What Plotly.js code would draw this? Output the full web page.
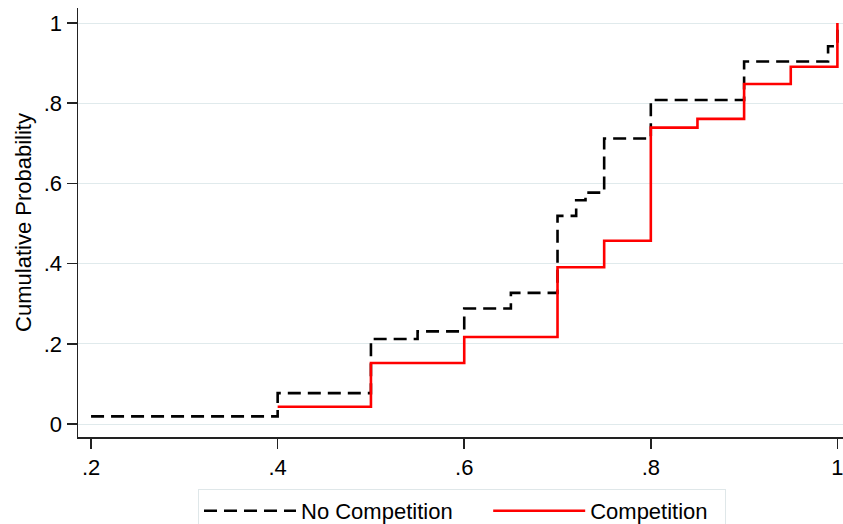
<!DOCTYPE html>
<html>
<head>
<meta charset="utf-8">
<script src="https://cdn.plot.ly/plotly-3.0.1.min.js"></script>
<style>
  html, body { margin: 0; padding: 0; background: #fff; }
  #chart { width: 843px; height: 524px; }
</style>
</head>
<body>
<div id="chart"></div>
<script>
// No Competition (empirical CDF, step starts)
const noCompX = [0.2, 0.4, 0.5, 0.55, 0.6, 0.65, 0.7, 0.72, 0.73, 0.75, 0.8, 0.9, 0.99, 1.0];
const noCompY = [0.019, 0.077, 0.212, 0.231, 0.288, 0.327, 0.519, 0.558, 0.577, 0.712, 0.808, 0.904, 0.942, 1.0];
// Competition
const compX = [0.4, 0.5, 0.6, 0.7, 0.75, 0.8, 0.85, 0.9, 0.95, 1.0];
const compY = [0.043, 0.152, 0.217, 0.391, 0.457, 0.739, 0.761, 0.848, 0.891, 1.0];

const seriesNames = ["No Competition", "Competition"];

const xTickVals = [0.2, 0.4, 0.6, 0.8, 1.0];
const xTickText = [".2", ".4", ".6", ".8", "1"];
const yTickVals = [0, 0.2, 0.4, 0.6, 0.8, 1.0];
const yTickText = ["0", ".2", ".4", ".6", ".8", "1"];

const FONT = "Liberation Sans, Arial, Helvetica, sans-serif";
const NB = "\u00A0";

const traces = [
  {
    x: noCompX, y: noCompY, type: "scatter", mode: "lines",
    name: seriesNames[0] + NB.repeat(5),
    line: { shape: "hv", color: "#000000", width: 2.6, dash: "13px,7px" }
  },
  {
    x: compX, y: compY, type: "scatter", mode: "lines",
    name: seriesNames[1] + NB.repeat(2),
    line: { shape: "hv", color: "#ff0000", width: 2.6 }
  }
];

const layout = {
  width: 843, height: 524,
  margin: { l: 78, r: 0, t: 8, b: 87 },
  paper_bgcolor: "#ffffff",
  plot_bgcolor: "#ffffff",
  font: { family: FONT, size: 22, color: "#000000" },
  showlegend: true,
  xaxis: {
    range: [0.186, 1.006],
    tickvals: xTickVals, ticktext: xTickText,
    ticks: "outside", ticklen: 10, tickwidth: 1.5, tickcolor: "#222",
    showline: true, linecolor: "#222", linewidth: 1.5,
    showgrid: false, zeroline: false,
    ticklabeloverflow: "allow",
    tickfont: { family: FONT, size: 22, color: "#000" }
  },
  yaxis: {
    range: [-0.0324, 1.0374],
    tickvals: yTickVals, ticktext: yTickText,
    ticks: "outside", ticklen: 10, tickwidth: 1.5, tickcolor: "#222",
    showline: true, linecolor: "#222", linewidth: 1.5,
    showgrid: true, gridcolor: "#e0eaec", gridwidth: 1,
    zeroline: false,
    tickfont: { family: FONT, size: 22, color: "#000" },
    title: { text: "Cumulative Probability", font: { family: FONT, size: 22, color: "#000" }, standoff: 6 }
  },
  legend: {
    orientation: "h",
    xref: "container", yref: "container",
    x: 198 / 843, xanchor: "left",
    y: (524 - 489) / 524, yanchor: "top",
    bgcolor: "#ffffff",
    bordercolor: "#dfe7e9", borderwidth: 1,
    font: { family: FONT, size: 22, color: "#000" },
    itemwidth: 92,
    traceorder: "normal"
  }
};

Plotly.newPlot("chart", traces, layout, { displayModeBar: false, staticPlot: true });
</script>
</body>
</html>
